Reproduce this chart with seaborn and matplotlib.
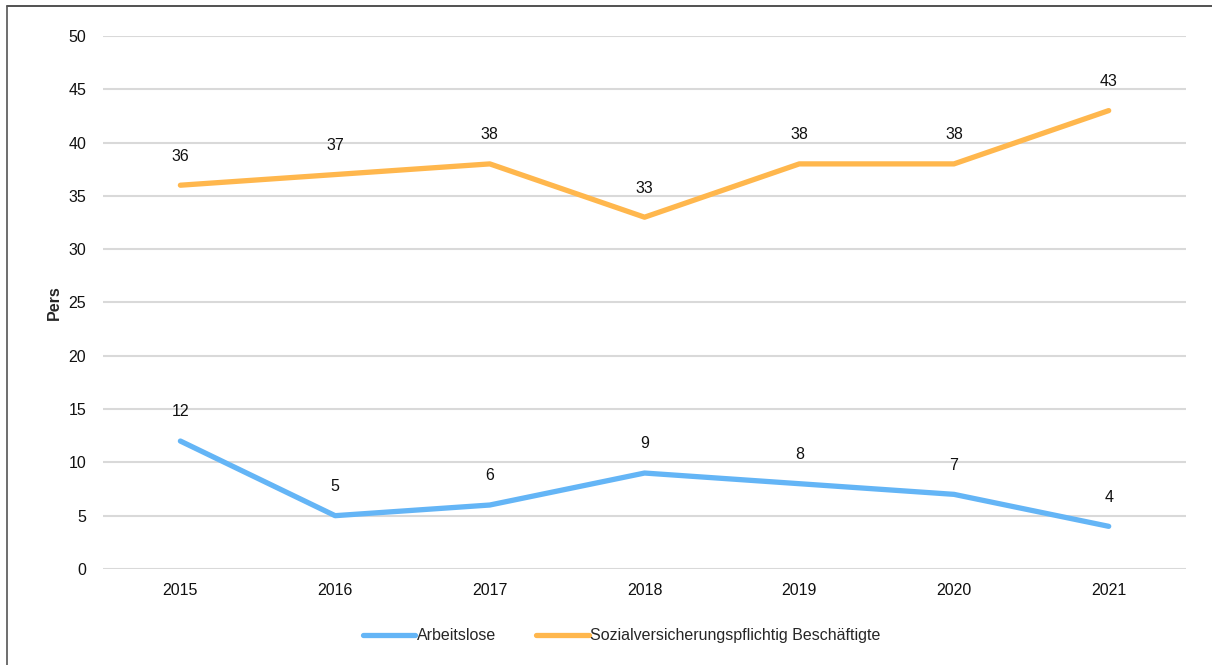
import pandas as pd
import numpy as np
import seaborn as sns
import matplotlib.pyplot as plt
from matplotlib.lines import Line2D

# Daten
jahre = ["2015", "2016", "2017", "2018", "2019", "2020", "2021"]
arbeitslose = [12, 5, 6, 9, 8, 7, 4]
beschaeftigte = [36, 37, 38, 33, 38, 38, 43]
serien = ["Arbeitslose", "Sozialversicherungspflichtig Beschäftigte"]
farben = ["#64B5F6", "#FFB74D"]

df = pd.DataFrame({
    "Jahr": jahre * 2,
    "Wert": arbeitslose + beschaeftigte,
    "Serie": [serien[0]] * len(jahre) + [serien[1]] * len(jahre),
})

sns.set_style("white")
plt.rcParams['font.family'] = ['Liberation Sans', 'DejaVu Sans']

fs = 11.5
fig = plt.figure(figsize=(12.12, 6.65), dpi=100)
ax = fig.add_axes([0.085, 0.1444, 0.8936, 0.8015])

sns.lineplot(data=df, x="Jahr", y="Wert", hue="Serie", palette=farben,
             linewidth=3.8, ax=ax, legend=False, sort=False,
             solid_capstyle="round", solid_joinstyle="round")

# Datenbeschriftungen
for serie, werte in zip(serien, [arbeitslose, beschaeftigte]):
    for i, v in enumerate(werte):
        ax.annotate(str(v), (i, v), xytext=(0, 21), textcoords="offset points",
                    ha="center", va="center", fontsize=fs, color="#111111")

ax.set_xlim(-0.5, len(jahre) - 0.5)
ax.set_ylim(0, 50)
ax.set_yticks(range(0, 51, 5))
ax.grid(axis="y", color="#d9d9d9", linewidth=1.5)
ax.set_axisbelow(True)
for s in ax.spines.values():
    s.set_visible(False)
ax.tick_params(axis="both", length=0, labelsize=fs, colors="#111111")
ax.tick_params(axis="y", pad=12)
ax.tick_params(axis="x", pad=10)
ax.set_xlabel("")
ax.set_ylabel("Pers", fontsize=fs, fontweight="bold", labelpad=5)

handles = [Line2D([0], [0], color=c, linewidth=3.8, solid_capstyle="round") for c in farben]
fig.legend(handles, serien, loc="center", bbox_to_anchor=(0.513, 0.044), ncol=2,
           frameon=False, fontsize=fs, handlelength=3.3, handletextpad=0.1,
           columnspacing=2.5)

# Rahmen oben und links
fig.add_artist(Line2D([7 / 1212, 1], [1 - 6 / 665, 1 - 6 / 665], color="#333333", linewidth=1.2))
fig.add_artist(Line2D([7 / 1212, 7 / 1212], [0, 1 - 6 / 665], color="#555555", linewidth=1.2))

fig.savefig("out.png", dpi=100)
